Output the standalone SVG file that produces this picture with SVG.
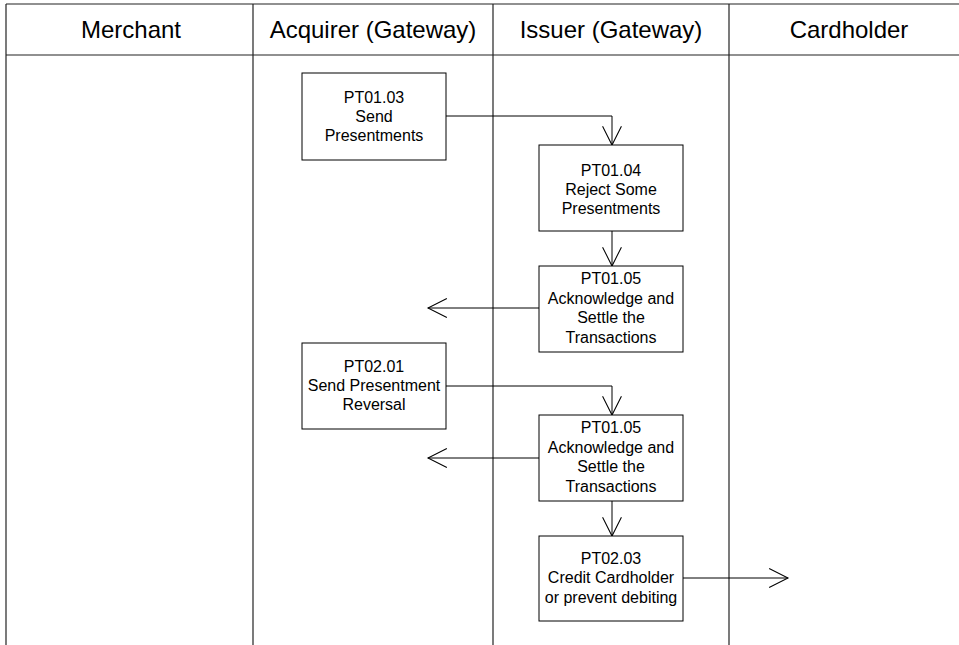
<svg xmlns="http://www.w3.org/2000/svg" width="959" height="645" viewBox="0 0 959 645">
<style>
  .lane { stroke: #222; stroke-width: 1.2; fill: none; }
  .box { fill: #fff; stroke: #000; stroke-width: 1; }
  .hdr { font-family: "Liberation Sans", Arial, sans-serif; font-size: 24px; fill: #000; text-anchor: middle; }
  .lbl { font-family: "Liberation Sans", Arial, sans-serif; font-size: 16px; fill: #000; text-anchor: middle; }
  .conn { stroke: #000; stroke-width: 1; fill: none; marker-end: url(#arr); }
</style>
<defs>
  <marker id="arr" markerUnits="userSpaceOnUse" markerWidth="22" markerHeight="22" refX="18" refY="9" orient="auto" viewBox="-1 -1 21 20">
    <path d="M0,0 L18,9 L0,18" fill="none" stroke="#000" stroke-width="1"/>
  </marker>
</defs>
<rect x="0" y="0" width="959" height="645" fill="#fff"/>
<g id="lanes">
  <line class="lane" x1="6" y1="4" x2="959" y2="4"/>
  <line class="lane" x1="6" y1="55" x2="959" y2="55"/>
  <line class="lane" x1="6" y1="4" x2="6" y2="645"/>
  <line class="lane" x1="253" y1="4" x2="253" y2="645"/>
  <line class="lane" x1="493" y1="4" x2="493" y2="645"/>
  <line class="lane" x1="729" y1="4" x2="729" y2="645"/>
  <text class="hdr" x="131" y="38">Merchant</text>
  <text class="hdr" x="373" y="38">Acquirer (Gateway)</text>
  <text class="hdr" x="611" y="38">Issuer (Gateway)</text>
  <text class="hdr" x="849" y="38">Cardholder</text>
</g>
<g id="connectors">
  <path class="conn" d="M446,116 H612 V145"/>
  <path class="conn" d="M612,231 V266"/>
  <path class="conn" d="M539,308 H428"/>
  <path class="conn" d="M446,386 H612 V415"/>
  <path class="conn" d="M539,458 H428"/>
  <path class="conn" d="M612,501 V536"/>
  <path class="conn" d="M683,578 H788"/>
</g>
<g id="pt0103">
  <rect class="box" x="302" y="73" width="144" height="87"/>
  <text class="lbl" x="374" y="102.7">PT01.03</text>
  <text class="lbl" x="374" y="122">Send</text>
  <text class="lbl" x="374" y="141.3">Presentments</text>
</g>
<g id="pt0104">
  <rect class="box" x="539" y="145" width="144" height="86"/>
  <text class="lbl" x="611" y="175.5">PT01.04</text>
  <text class="lbl" x="611" y="194.8">Reject Some</text>
  <text class="lbl" x="611" y="214.1">Presentments</text>
</g>
<g id="pt0105a">
  <rect class="box" x="539" y="266" width="144" height="86"/>
  <text class="lbl" x="611" y="284.2">PT01.05</text>
  <text class="lbl" x="611" y="303.7">Acknowledge and</text>
  <text class="lbl" x="611" y="323.2">Settle the</text>
  <text class="lbl" x="611" y="342.7">Transactions</text>
</g>
<g id="pt0201">
  <rect class="box" x="302" y="343" width="144" height="86"/>
  <text class="lbl" x="374" y="371.7">PT02.01</text>
  <text class="lbl" x="374" y="391">Send Presentment</text>
  <text class="lbl" x="374" y="410.3">Reversal</text>
</g>
<g id="pt0105b">
  <rect class="box" x="539" y="415" width="144" height="86"/>
  <text class="lbl" x="611" y="433.2">PT01.05</text>
  <text class="lbl" x="611" y="452.7">Acknowledge and</text>
  <text class="lbl" x="611" y="472.2">Settle the</text>
  <text class="lbl" x="611" y="491.7">Transactions</text>
</g>
<g id="pt0203">
  <rect class="box" x="539" y="536" width="144" height="85"/>
  <text class="lbl" x="611" y="564">PT02.03</text>
  <text class="lbl" x="611" y="583.3">Credit Cardholder</text>
  <text class="lbl" x="611" y="602.6">or prevent debiting</text>
</g>
</svg>
